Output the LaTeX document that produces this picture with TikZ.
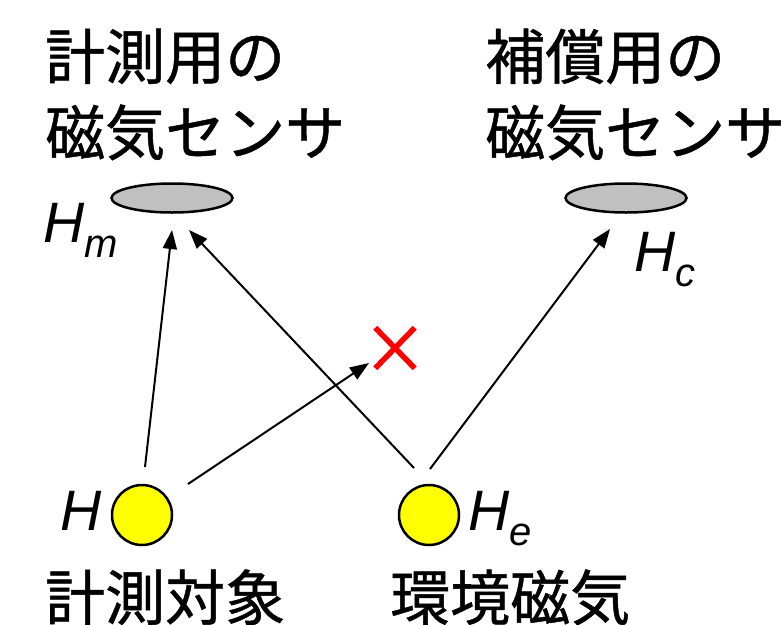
\documentclass[tikz,border=0pt]{standalone}
\usepackage{fontspec}
\setmainfont{Liberation Sans}
\newfontfamily\jp[FakeBold=0.8]{Noto Sans CJK JP}
\usetikzlibrary{arrows.meta,shapes.geometric,shapes.misc}
\definecolor{sensorgray}{HTML}{C0C0C0}
\definecolor{srcyellow}{HTML}{FFFF00}
\definecolor{xred}{HTML}{FF0000}
\newcommand\hsub[1]{\raisebox{-15pt}{\fontsize{40}{40}\selectfont #1}}
\begin{document}
\begin{tikzpicture}[x=1pt,y=-1pt,
  jptext/.style={font=\jp\fontsize{60}{60}\selectfont, inner sep=0, anchor=base west},
  hlabel/.style={font=\fontsize{57}{57}\selectfont\itshape, inner sep=0, anchor=base west},
  sensor/.style={ellipse, draw, line width=2.5pt, fill=sensorgray, minimum width=121pt, minimum height=29pt, inner sep=0},
  source/.style={circle, draw, line width=2.5pt, fill=srcyellow, minimum size=60pt, inner sep=0},
  arr/.style={-{Triangle[length=19pt,width=14pt]}, line width=2pt},
  nogo/.style={cross out, draw=xred, line width=5.5pt, minimum width=34pt, minimum height=35pt, inner sep=0}]
\useasboundingbox (0,0) rectangle (781,624);
% texts
\node[jptext] (lblA1) at (45,79) {計測用の};
\node[jptext] (lblA2) at (45,155) {磁気センサ};
\node[jptext] (lblB1) at (485,79) {補償用の};
\node[jptext] (lblB2) at (485,155) {磁気センサ};
\node[jptext] (lblC) at (45,620) {計測対象};
\node[jptext] (lblD) at (390,620) {環境磁気};
% sensors and sources
\node[sensor] (Sm) at (172,198) {};
\node[sensor] (Sc) at (626,198) {};
\node[source] (Hsrc) at (142,515) {};
\node[source] (Hesrc) at (429,515) {};
% H labels
\node[hlabel] (Hm) at (43,242) {H\hsub{m}};
\node[hlabel] (Hc) at (634,271) {H\hsub{c}};
\node[hlabel] (He) at (468,530) {H\hsub{e}};
\node[hlabel] (Hl) at (60,530) {H};
% cross
\node[nogo] (X) at (395,348) {};
% arrow end points
\coordinate (s1) at (145,467);
\coordinate (e1) at (172,230);
\coordinate (s2) at (414,468);
\coordinate (e2) at (189,230);
\coordinate (s3) at (188,484);
\coordinate (e3) at (369,363);
\coordinate (s4) at (430,469);
\coordinate (e4) at (610,229);
\draw[arr] (s1) -- (e1);
\draw[arr] (s2) -- (e2);
\draw[arr] (s3) -- (e3);
\draw[arr] (s4) -- (e4);
\end{tikzpicture}
\end{document}
